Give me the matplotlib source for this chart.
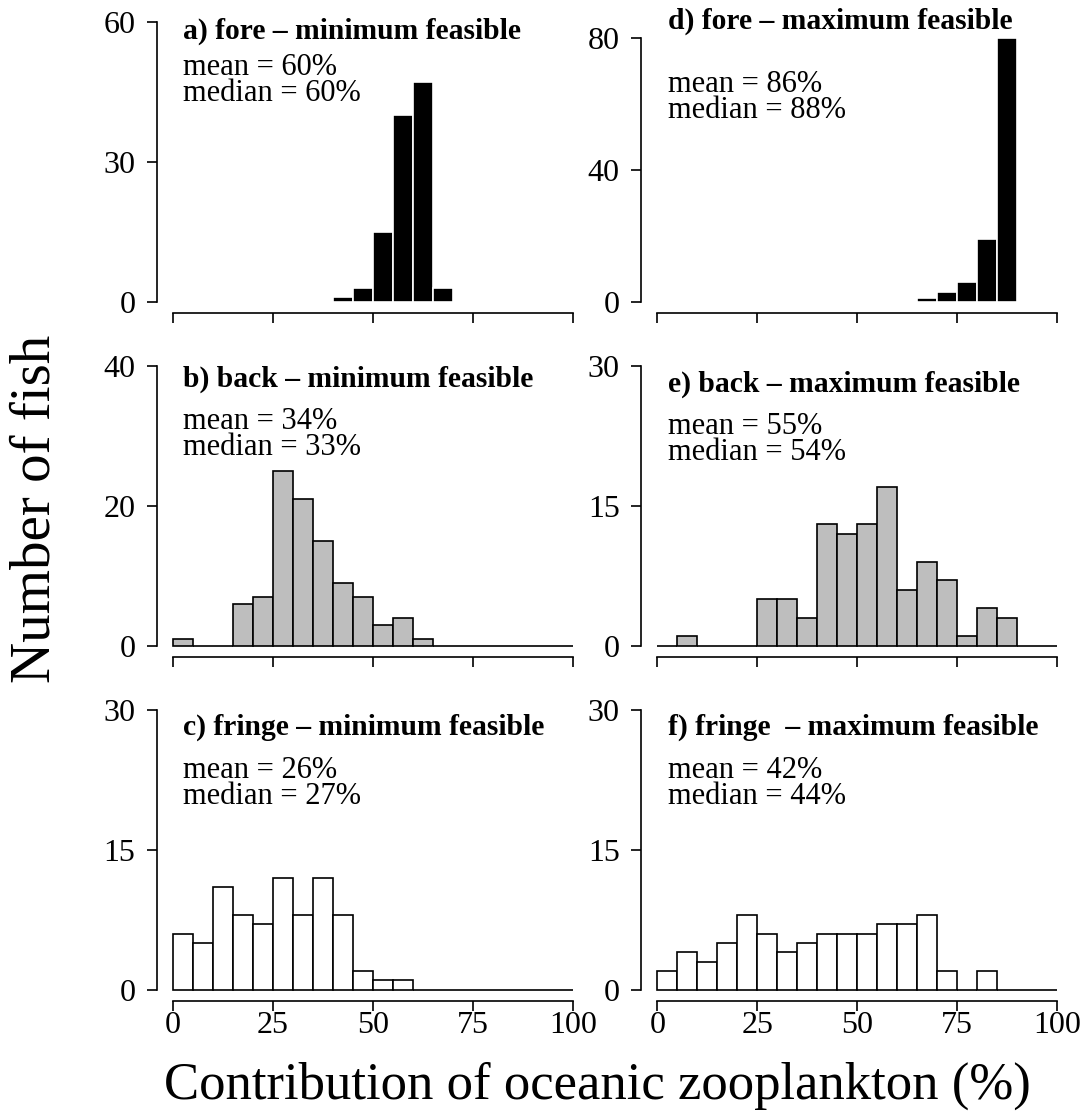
import numpy as np
import matplotlib.pyplot as plt

plt.rcParams['font.family'] = ['Liberation Serif', 'DejaVu Serif']

# histogram counts, 5% bins from 0 to 100
bin_edges = np.arange(0, 105, 5)
fore_min = [0, 0, 0, 0, 0, 0, 0, 0, 1, 3, 15, 40, 47, 3, 0, 0, 0, 0, 0, 0]
fore_max = [0, 0, 0, 0, 0, 0, 0, 0, 0, 0, 0, 0, 0, 1, 3, 6, 19, 80, 0, 0]
back_min = [1, 0, 0, 6, 7, 25, 21, 15, 9, 7, 3, 4, 1, 0, 0, 0, 0, 0, 0, 0]
back_max = [0, 1, 0, 0, 0, 5, 5, 3, 13, 12, 13, 17, 6, 9, 7, 1, 4, 3, 0, 0]
fringe_min = [6, 5, 11, 8, 7, 12, 8, 12, 8, 2, 1, 1, 0, 0, 0, 0, 0, 0, 0, 0]
fringe_max = [2, 4, 3, 5, 8, 6, 4, 5, 6, 6, 6, 7, 7, 8, 2, 0, 2, 0, 0, 0]

titles = ['a) fore \u2013 minimum feasible', 'b) back \u2013 minimum feasible',
          'c) fringe \u2013 minimum feasible', 'd) fore \u2013 maximum feasible',
          'e) back \u2013 maximum feasible', 'f) fringe  \u2013 maximum feasible']
means = [60, 34, 26, 86, 55, 42]
medians = [60, 33, 27, 88, 54, 44]
y_tops = [60, 40, 30, 85, 30, 30]
y_ticks = [[0, 30, 60], [0, 20, 40], [0, 15, 30], [0, 40, 80], [0, 15, 30], [0, 15, 30]]
counts = [fore_min, back_min, fringe_min, fore_max, back_max, fringe_max]

fills = ['black', '#BEBEBE', 'white'] * 2
edges = ['white', 'black', 'black'] * 2

W, H = 1088, 1120
fig = plt.figure(figsize=(W / 100, H / 100), dpi=100)

col_x0 = [173, 657.3]          # pixel position of x = 0
row_y0 = [301.7, 645.7, 989.7]  # pixel position of y = 0
span_x, span_y = 400, 280

# text anchors in pixels: x, title baseline, median (last line) baseline
text_pos = [(183, 39, 101), (183, 387, 455), (183, 735, 804),
            (668, 29, 118), (668, 392, 460), (668, 735, 804)]

for i in range(6):
    col, row = i // 3, i % 3
    x0, y0 = col_x0[col], row_y0[row]
    left = (x0 - 0.04 * span_x) / W
    bottom = 1 - (y0 + 0.04 * span_y) / H
    ax = fig.add_axes([left, bottom, 1.08 * span_x / W, 1.08 * span_y / H])

    ax.bar(bin_edges[:-1], counts[i], width=5, align='edge',
           color=fills[i], edgecolor=edges[i], linewidth=1.2)

    top = y_tops[i]
    ax.set_xlim(-4, 104)
    ax.set_ylim(-0.04 * top, 1.04 * top)
    ax.spines['top'].set_visible(False)
    ax.spines['right'].set_visible(False)
    ax.spines['left'].set_bounds(0, y_ticks[i][-1])
    ax.spines['bottom'].set_bounds(0, 100)
    for s in ['left', 'bottom']:
        ax.spines[s].set_linewidth(1.2)
    ax.set_yticks(y_ticks[i])
    ax.set_xticks([0, 25, 50, 75, 100])
    ax.tick_params(direction='out', length=7.5, width=1.2, labelsize=23)
    ax.tick_params(axis='y', pad=8)
    ax.tick_params(axis='x', pad=0)
    if row < 2:
        ax.set_xticklabels([])

    tx, ty, dy = text_pos[i]
    fig.text(tx / W, 1 - ty / H, titles[i], fontsize=21.3, fontweight='bold',
             va='baseline')
    fig.text(tx / W, 1 - dy / H,
             'mean = %d%%\nmedian = %d%%' % (means[i], medians[i]),
             fontsize=22, va='baseline', linespacing=0.87)

fig.text(50 / W, 1 - 509 / H, 'Number of fish', fontsize=41, rotation=90,
         rotation_mode='anchor', ha='center', va='baseline')
fig.text(597 / W, 1 - 1099 / H, 'Contribution of oceanic zooplankton (%)',
         fontsize=38, ha='center', va='baseline')

fig.savefig('out.png', dpi=100)
